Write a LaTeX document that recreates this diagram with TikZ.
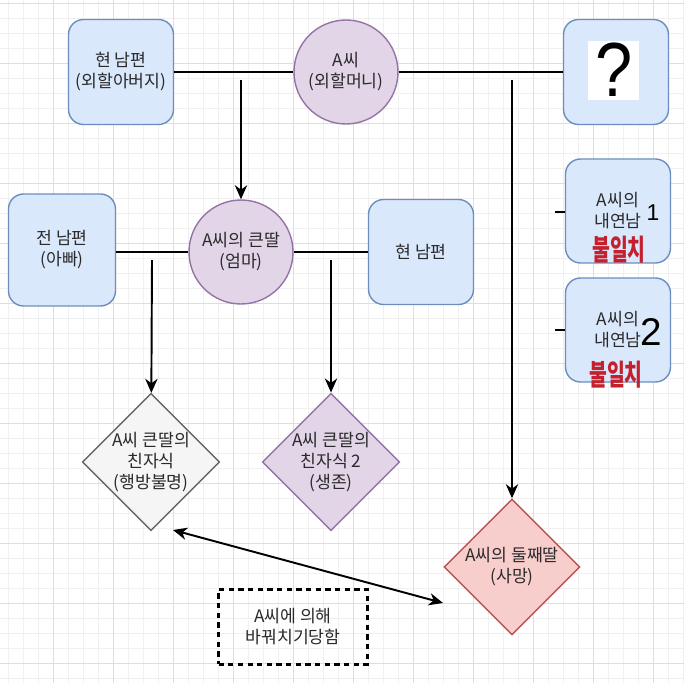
\documentclass[tikz,border=0pt]{standalone}
\usepackage{fontspec}
\newfontfamily\kr{Noto Sans CJK KR}
\newfontfamily\hand{Liberation Sans}
\usetikzlibrary{shapes.geometric,arrows.meta,positioning}
\definecolor{blueline}{HTML}{6C8EBF}
\definecolor{bluefill}{HTML}{DAE8FC}
\definecolor{purpleline}{HTML}{9673A6}
\definecolor{purplefill}{HTML}{E1D5E7}
\definecolor{grayline}{HTML}{666666}
\definecolor{grayfill}{HTML}{F5F5F5}
\definecolor{redline}{HTML}{B85450}
\definecolor{redfill}{HTML}{F8CECC}
\definecolor{txt}{HTML}{2A2A2A}
\definecolor{ink}{HTML}{C4202E}
\tikzset{
  every node/.style={font=\kr\fontsize{9.8}{12}\selectfont, text=txt, align=center},
  person/.style={draw=blueline, fill=bluefill, line width=0.8pt, rounded corners=0.3cm,
    minimum width=2.1cm, minimum height=2.1cm},
  woman/.style={circle, draw=purpleline, fill=purplefill, line width=0.8pt, minimum size=2.08cm},
  child/.style={diamond, line width=0.8pt, minimum width=2.72cm, minimum height=2.72cm, inner sep=0pt},
  link/.style={line width=1.1pt, black},
  arrow/.style={link, -{Stealth[length=8pt, width=7pt, inset=2.5pt]}},
  swap/.style={link, {Stealth[length=8pt, width=7pt, inset=2.5pt]}-{Stealth[length=8pt, width=7pt, inset=2.5pt]}},
  gridminor/.style={line width=0.4pt, black!6},
  gridmajor/.style={line width=0.5pt, black!13},
  scrawl/.style={text=ink, font=\kr\bfseries\fontsize{11}{11}\selectfont, yscale=1.5, transform shape}
}
\begin{document}
\begin{tikzpicture}[x=0.02cm, y=-0.02cm]
  \useasboundingbox (0,0) rectangle (684,683);
  \fill[white] (0,0) rectangle (684,683);
  % background grid
  \foreach \x in {8,23,...,683} \draw[gridminor] (\x,0) -- (\x,683);
  \foreach \y in {3,18,...,683} \draw[gridminor] (0,\y) -- (684,\y);
  \foreach \x in {53,113,...,683} \draw[gridmajor] (\x,0) -- (\x,683);
  \foreach \y in {3,63,...,683} \draw[gridmajor] (0,\y) -- (684,\y);

  % first generation
  \node[person] (grandpa) at (121,72) {현 남편\\(외할아버지)};
  \node[woman] (grandma) at (346,72) {A씨\\(외할머니)};
  \node[person] (unknown) at (616,72) {};
  \fill[white] (588,41) rectangle (639,100);
  \node[font=\hand\fontsize{38}{38}\selectfont, text=black, yscale=1.15, transform shape] (qmark) at (614,70) {?};

  % second generation
  \node[person, minimum width=2.14cm, minimum height=2.24cm] (exhusband) at (62,250) {전 남편\\(아빠)};
  \node[woman] (eldest) at (241,252) {A씨의 큰딸\\(엄마)};
  \node[person] (husband) at (421,252) {현 남편};

  % lovers
  \node[person, minimum height=2.08cm] (lover1) at (618,211) {A씨의\\내연남};
  \node[person, minimum height=2.08cm] (lover2) at (618,330) {A씨의\\내연남};
  \node[font=\hand\fontsize{13}{13}\selectfont, text=black] (num1) at (653,213) {1};
  \node[font=\hand\fontsize{22}{22}\selectfont, text=black] (num2) at (651,332) {2};
  \node[scrawl] (nomatch1) at (619,250) {불일치};
  \node[scrawl] (nomatch2) at (616,375) {불일치};

  % children
  \node[child, draw=grayline, fill=grayfill] (child1) at (151,462) {A씨 큰딸의\\친자식\\(행방불명)};
  \node[child, draw=purpleline, fill=purplefill] (child2) at (331,462) {A씨 큰딸의\\친자식 2\\(생존)};
  \node[child, draw=redline, fill=redfill] (second) at (512,567) {A씨의 둘째딸\\(사망)};
  \node[draw=black, line width=1.3pt, dash pattern=on 3pt off 2.5pt,
    minimum width=2.98cm, minimum height=1.5cm] (note) at (293,627) {A씨에 의해\\바꿔치기당함};

  % connectors
  \draw[link] (grandpa) -- (grandma);
  \draw[link] (grandma) -- (unknown);
  \coordinate (split1) at (241,80);
  \coordinate (split2) at (512,80);
  \draw[arrow] (split1) -- (eldest);
  \draw[arrow] (split2) -- (second);
  \draw[link] (exhusband.east |- eldest.west) -- (eldest);
  \draw[link] (eldest) -- (husband);
  \coordinate (split3) at (152,260);
  \coordinate (split4) at (331,260);
  \draw[arrow] (split3) -- (child1);
  \draw[arrow] (split4) -- (child2);
  \coordinate (swapA) at (173,530);
  \coordinate (swapB) at (443,603);
  \draw[swap] (swapA) -- (swapB);
  \coordinate (stub1) at (555,212);
  \coordinate (stub2) at (555,330);
  \draw[link] (stub1) -- (lover1.west |- stub1);
  \draw[link] (stub2) -- (lover2.west |- stub2);
\end{tikzpicture}
\end{document}
